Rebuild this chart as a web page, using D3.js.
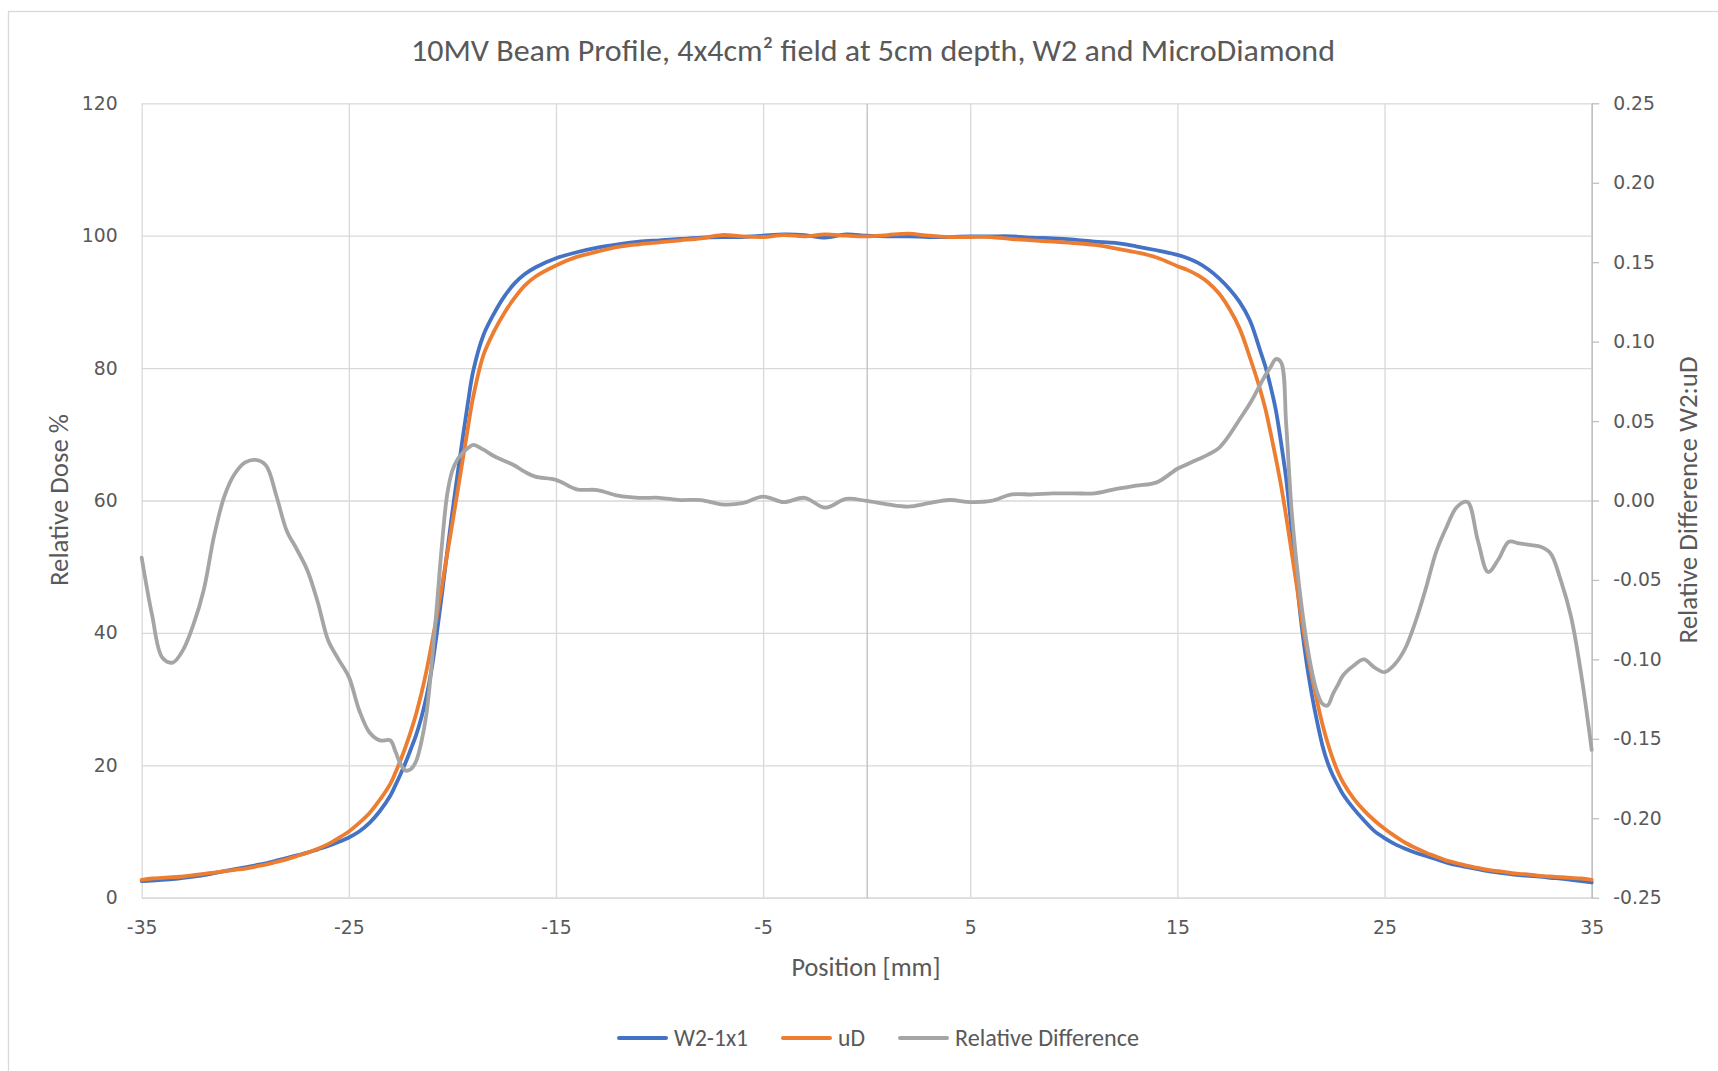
<!DOCTYPE html>
<html><head><meta charset="utf-8">
<script src="https://cdn.jsdelivr.net/npm/d3@7"></script>
<style>html,body{margin:0;padding:0;background:#fff;overflow:hidden}</style>
</head><body>
<svg id="chart" width="1718" height="1071"></svg>
<script>
// ---- DATA ----
const positions = [
  -35,-34.5,-34,-33.5,-33,-32.5,-32,-31.5,-31,-30.5,-30,-29.5,-29,-28.5,-28,-27.5,-27,-26.5,-26,-25.5,-25,-24.5,-24,-23.5,-23,
  -22.75,-22.5,-22.25,-22,-21.75,-21.5,-21.25,-21,-20.75,-20.5,-20.25,-20,-19.75,-19.5,-19.25,
  -19,-18.5,-18,-17.5,-17,-16.5,-16,
  -15,-14,-13,-12,-11,-10,-9,-8,-7,-6,-5,-4,-3,-2,-1,0,1,2,3,4,5,6,7,8,9,10,11,12,13,14,15,
  15.5,16,16.5,17,17.5,18,18.5,19,
  19.25,19.5,19.75,20,20.25,20.5,20.75,21,21.25,21.5,21.75,22,22.25,22.5,22.75,
  23,23.5,24,24.5,25,25.5,26,26.5,27,27.5,28,28.5,29,29.5,30,30.5,31,31.5,32,32.5,33,33.5,34,34.5,35
];
const w2Dose = [
  2.5,2.6,2.7,2.8,3.0,3.2,3.4,3.7,4.0,4.3,4.6,4.9,5.2,5.6,6.0,6.4,6.8,7.3,7.8,8.4,9.1,10.0,11.3,13.1,15.4,
  17.0,18.7,20.5,22.5,24.6,27.2,30.4,34.6,40.0,46.0,52.3,58.3,64.0,69.5,74.8,
  79.5,85.0,88.2,90.8,92.8,94.2,95.2,
  96.6,97.5,98.2,98.7,99.1,99.3,99.5,99.7,99.8,99.8,100.0,100.2,100.1,99.7,100.2,100.0,99.9,99.9,99.8,99.8,99.9,99.9,99.9,99.7,99.6,99.4,99.1,98.9,98.4,97.8,97.1,
  96.6,95.9,94.9,93.6,92.0,90.0,87.2,82.6,
  80.2,77.2,73.7,68.8,63.3,56.0,48.3,41.0,35.2,30.5,26.5,23.0,20.4,18.5,17.0,
  15.6,13.5,11.7,10.1,9.0,8.1,7.4,6.8,6.3,5.8,5.3,4.9,4.6,4.3,4.0,3.8,3.6,3.4,3.3,3.2,3.0,2.9,2.7,2.5,2.3
];
const uDDose = [
  2.7,2.9,3.0,3.1,3.2,3.4,3.6,3.8,4.0,4.2,4.4,4.7,5.0,5.4,5.8,6.3,6.8,7.4,8.1,9.0,10.0,11.3,12.8,14.8,17.2,
  18.9,20.8,22.9,25.2,27.8,30.8,34.3,38.3,42.6,47.2,51.9,56.6,61.4,66.2,71.0,
  75.6,82.0,85.5,88.3,90.6,92.5,93.8,
  95.5,96.8,97.6,98.3,98.7,99.0,99.3,99.6,100.1,99.9,99.8,100.1,99.9,100.2,100.0,99.9,100.1,100.3,100.0,99.8,99.8,99.8,99.5,99.3,99.1,98.9,98.6,98.1,97.5,96.7,95.4,
  94.8,94.0,92.9,91.3,89.0,86.0,81.6,76.7,
  73.8,70.2,66.4,62.3,57.6,52.5,47.3,42.0,37.4,33.3,29.6,26.2,23.4,21.0,19.0,
  17.4,15.0,13.2,11.7,10.4,9.3,8.3,7.5,6.8,6.2,5.6,5.2,4.8,4.5,4.2,4.0,3.8,3.6,3.5,3.3,3.2,3.1,3.0,2.9,2.7
];
const relDiff = [
  -0.036,-0.072,-0.099,-0.102,-0.094,-0.078,-0.056,-0.022,0.003,0.017,0.024,0.0255,0.022,0.003,-0.019,-0.031,-0.044,-0.064,-0.088,-0.100,-0.111,-0.132,-0.146,-0.151,-0.151,
  -0.158,-0.166,-0.170,-0.169,-0.164,-0.152,-0.134,-0.103,-0.066,-0.027,0.004,0.019,0.026,0.030,0.033,
  0.035,0.032,0.028,0.025,0.022,0.018,0.015,
  0.013,0.007,0.0066,0.003,0.0017,0.0017,0.0003,0.0003,-0.0024,-0.0017,0.0024,-0.001,0.0017,-0.0045,0.001,-0.0003,-0.0024,-0.0038,-0.0017,0.0003,-0.001,-0.0003,0.0038,0.0038,0.0045,0.0045,0.0045,0.0072,0.0093,0.0114,0.020,
  0.023,0.026,0.029,0.033,0.041,0.051,0.061,0.073,
  0.079,0.084,0.089,0.087,0.048,-0.004,-0.039,-0.067,-0.090,-0.108,-0.121,-0.128,-0.129,-0.122,-0.116,
  -0.110,-0.104,-0.100,-0.105,-0.108,-0.103,-0.093,-0.076,-0.055,-0.032,-0.0165,-0.004,-0.001,-0.025,-0.045,-0.037,-0.026,-0.027,-0.028,-0.029,-0.033,-0.050,-0.073,-0.110,-0.157
];
const xTicks = [-35,-25,-15,-5,5,15,25,35];
const yTicks = [0,20,40,60,80,100,120];
const y2Ticks = [-0.25,-0.20,-0.15,-0.10,-0.05,0,0.05,0.10,0.15,0.20,0.25];
const seriesNames = ["W2-1x1","uD","Relative Difference"];
const seriesColors = ["#4472C4","#ED7D31","#A5A5A5"];
const titleText = "10MV Beam Profile, 4x4cm\u00B2 field at 5cm depth, W2 and MicroDiamond";

// ---- LAYOUT ----
const plot = {left:141.7, right:1591.7, top:103.3, bottom:897.7};
const labelFont = "'DejaVu Sans', Verdana, sans-serif";
const textFont = "Carlito, Lato, 'Open Sans', sans-serif";
const textColor = "#595959";
const svg = d3.select("#chart");

svg.append("rect").attr("x",8.5).attr("y",11.5).attr("width",1800).attr("height",1200)
  .attr("fill","#fff").attr("stroke","#d9d9d9").attr("stroke-width",1.3);

const x = d3.scaleLinear().domain([-35,35]).range([plot.left,plot.right]);
const y = d3.scaleLinear().domain([0,120]).range([plot.bottom,plot.top]);
const y2 = d3.scaleLinear().domain([-0.25,0.25]).range([plot.bottom,plot.top]);

// gridlines
const gH = svg.append("g").attr("transform",`translate(${plot.left},0)`)
  .call(d3.axisLeft(y).tickValues(yTicks).tickSize(-(plot.right-plot.left)).tickFormat(""));
gH.select(".domain").remove();
gH.selectAll("line").attr("stroke","#d9d9d9").attr("stroke-width",1.3);

const gV = svg.append("g").attr("transform",`translate(0,${plot.bottom})`)
  .call(d3.axisBottom(x).tickValues(xTicks).tickSize(-(plot.bottom-plot.top)).tickFormat("").tickSizeOuter(0));
gV.select(".domain").attr("stroke","#d9d9d9").attr("stroke-width",1.3);
gV.selectAll("line").attr("stroke","#d9d9d9").attr("stroke-width",1.3);

// primary vertical axis line crossing at x = 0
const gY0 = svg.append("g").attr("transform",`translate(${x(0)},0)`)
  .call(d3.axisLeft(y).tickValues([]).tickSizeOuter(0));
gY0.select(".domain").attr("stroke","#bfbfbf").attr("stroke-width",1.3);

// left labels
const gYL = svg.append("g").attr("transform",`translate(${plot.left},0)`)
  .call(d3.axisLeft(y).tickValues(yTicks).tickSize(0).tickPadding(24).tickFormat(d=>String(d)));
gYL.select(".domain").remove();
gYL.selectAll("text").attr("font-family",labelFont).attr("font-size",18.8).attr("fill",textColor);

// bottom labels
const gXL = svg.append("g").attr("transform",`translate(0,${plot.bottom})`)
  .call(d3.axisBottom(x).tickValues(xTicks).tickSize(0).tickPadding(23).tickFormat(d=>String(d)));
gXL.select(".domain").remove();
gXL.selectAll("text").attr("font-family",labelFont).attr("font-size",18.8).attr("fill",textColor);

// right secondary axis
const gYR = svg.append("g").attr("transform",`translate(${plot.right},0)`)
  .call(d3.axisRight(y2).tickValues(y2Ticks).tickSize(7.5).tickSizeOuter(0).tickPadding(14).tickFormat(d=>d.toFixed(2)));
gYR.select(".domain").attr("stroke","#bfbfbf").attr("stroke-width",1.5);
gYR.selectAll("line").attr("stroke","#bfbfbf").attr("stroke-width",1.3);
gYR.selectAll("text").attr("font-family",labelFont).attr("font-size",18.8).attr("fill",textColor);

// series lines
const lineDose = vals => d3.line().x((d,i)=>x(positions[i])).y(d=>y(d)).curve(d3.curveCatmullRom.alpha(0.5))(vals);
const lineDiff = d3.line().x((d,i)=>x(positions[i])).y(d=>y2(d)).curve(d3.curveCatmullRom.alpha(0.5));
svg.append("path").attr("d",lineDose(w2Dose)).attr("fill","none").attr("stroke",seriesColors[0]).attr("stroke-width",3.8).attr("stroke-linejoin","round").attr("stroke-linecap","round");
svg.append("path").attr("d",lineDose(uDDose)).attr("fill","none").attr("stroke",seriesColors[1]).attr("stroke-width",3.8).attr("stroke-linejoin","round").attr("stroke-linecap","round");
svg.append("path").attr("d",lineDiff(relDiff)).attr("fill","none").attr("stroke",seriesColors[2]).attr("stroke-width",3.8).attr("stroke-linejoin","round").attr("stroke-linecap","round");

// titles
svg.append("text").attr("x",873).attr("y",61).attr("text-anchor","middle")
  .attr("font-family",textFont).attr("font-size",31).attr("fill",textColor)
  .attr("textLength",924).attr("lengthAdjust","spacingAndGlyphs").text(titleText);

svg.append("text").attr("transform","translate(68,500) rotate(-90)").attr("text-anchor","middle")
  .attr("font-family",textFont).attr("font-size",26).attr("fill",textColor)
  .attr("textLength",172).attr("lengthAdjust","spacingAndGlyphs").text("Relative Dose %");

svg.append("text").attr("transform","translate(1697,500) rotate(-90)").attr("text-anchor","middle")
  .attr("font-family",textFont).attr("font-size",26).attr("fill",textColor)
  .attr("textLength",287).attr("lengthAdjust","spacingAndGlyphs").text("Relative Difference W2:uD");

svg.append("text").attr("x",866).attr("y",976).attr("text-anchor","middle")
  .attr("font-family",textFont).attr("font-size",26).attr("fill",textColor)
  .attr("textLength",149).attr("lengthAdjust","spacingAndGlyphs").text("Position [mm]");

// legend
const legendWidths = [74,27,184];
let lx = 617;
const ly = 1038;
seriesNames.forEach((name,i)=>{
  svg.append("line").attr("x1",lx+2).attr("x2",lx+49).attr("y1",ly).attr("y2",ly)
    .attr("stroke",seriesColors[i]).attr("stroke-width",4).attr("stroke-linecap","round");
  svg.append("text").attr("x",lx+57).attr("y",ly+7.8)
    .attr("font-family",textFont).attr("font-size",23.5).attr("fill",textColor)
    .attr("textLength",legendWidths[i]).attr("lengthAdjust","spacingAndGlyphs").text(name);
  lx += 57 + legendWidths[i] + 33;
});
</script>
</body></html>
